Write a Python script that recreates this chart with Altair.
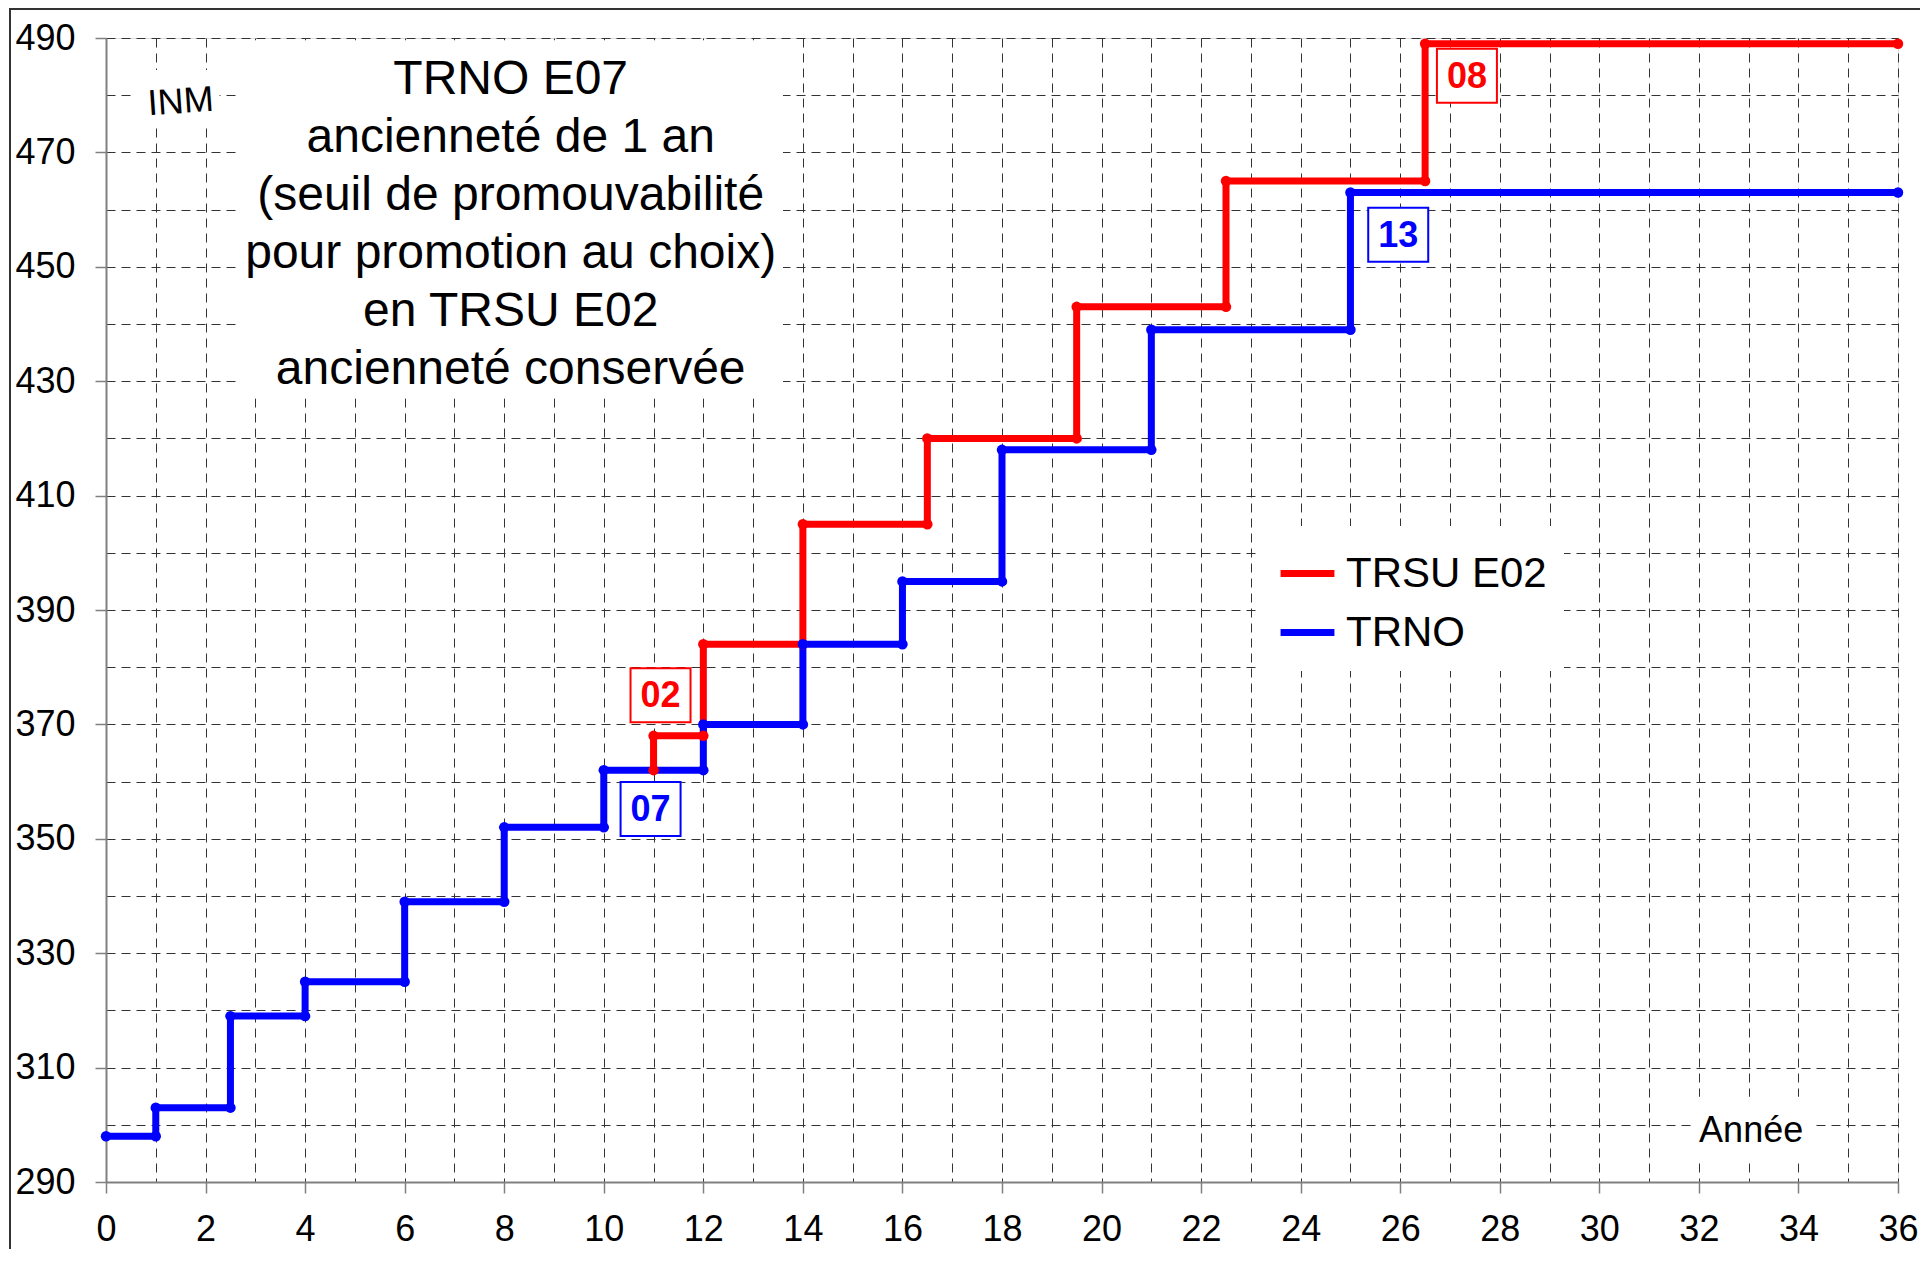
import altair as alt
import pandas as pd

FONT = "Liberation Sans"

# ---- series (step curves: year, INM) ----
series_names = ["TRSU E02", "TRNO"]
series_colors = ["#ff0000", "#0000ff"]

trsu_years = [11, 11, 12, 12, 14, 14, 16.5, 16.5, 19.5, 19.5, 22.5, 22.5, 26.5, 26.5, 36]
trsu_inm = [362, 368, 368, 384, 384, 405, 405, 420, 420, 443, 443, 465, 465, 489, 489]

trno_years = [0, 1, 1, 2.5, 2.5, 4, 4, 6, 6, 8, 8, 10, 10, 12, 12, 14, 14, 16, 16, 18, 18, 21, 21, 25, 25, 36]
trno_inm = [298, 298, 303, 303, 319, 319, 325, 325, 339, 339, 352, 352, 362, 362, 370, 370,
            384, 384, 395, 395, 418, 418, 439, 439, 463, 463]

# ---- axes ----
x_values = list(range(0, 37))
y_values = list(range(290, 491, 5))

# ---- step labels (boxed) ----
step_labels = ["02", "07", "13", "08"]
step_label_series = ["TRSU E02", "TRNO", "TRNO", "TRSU E02"]
step_label_years = [11.14, 10.94, 25.96, 27.34]
step_label_inm = [375.1, 355.2, 455.6, 483.4]

# ---- free texts ----
title_lines = ["TRNO E07", "ancienneté de 1 an", "(seuil de promouvabilité",
               "pour promotion au choix)", "en TRSU E02", "ancienneté conservée"]
title_year, title_inm = 8.13, 482.66
inm_label, inm_year, inm_inm = "INM", 1.5, 478.8
annee_label, annee_year, annee_inm = "Année", 33.05, 298.9

# white panels behind texts (year range, INM range)
panel_x1 = [2.68, 0.54, 31.9]
panel_x2 = [13.6, 2.28, 34.3]
panel_y1 = [427.0, 475.1, 293.4]
panel_y2 = [489.6, 484.4, 304.9]

# ---- tables ----
rows = []
i = 0
for name, xs, ys in [("TRSU E02", trsu_years, trsu_inm), ("TRNO", trno_years, trno_inm)]:
    for x, y in zip(xs, ys):
        rows.append({"series": name, "year": x, "inm": y, "idx": i})
        i += 1
series_df = pd.DataFrame(rows)

labels_df = pd.DataFrame({"series": step_label_series, "year": step_label_years,
                          "inm": step_label_inm, "label": step_labels})
panels_df = pd.DataFrame({"year": panel_x1, "year2": panel_x2, "inm": panel_y1, "inm2": panel_y2})

xscale = alt.Scale(domain=[0, 36], nice=False, zero=False)
yscale = alt.Scale(domain=[290, 490], nice=False, zero=False)
cscale = alt.Scale(domain=series_names, range=series_colors)

x_axis = alt.Axis(
    values=x_values, grid=True, gridDash=[9, 6], gridColor="#333333", gridWidth=1,
    labelExpr="datum.value % 2 === 0 ? datum.label : ''",
    labelFont=FONT, labelFontSize=36, labelColor="black", labelPadding=19,
    labelOverlap=False, labelFlush=False, labelBound=False,
    tickSize={"condition": {"test": "datum.value % 2 === 0", "value": 11}, "value": 0},
    tickColor="#808080", tickWidth=1.5, domainColor="#808080", domainWidth=2, title=None,
)
y_axis = alt.Axis(
    values=y_values, grid=True, gridDash=[9, 6], gridColor="#333333", gridWidth=1,
    labelExpr="(datum.value - 290) % 20 === 0 ? datum.label : ''",
    labelFont=FONT, labelFontSize=36, labelColor="black", labelPadding=20,
    labelOverlap=False, labelFlush=False, labelBound=False,
    tickSize={"condition": {"test": "(datum.value - 290) % 20 === 0", "value": 11}, "value": 0},
    tickColor="#808080", tickWidth=1.5, domainColor="#808080", domainWidth=2, title=None,
)

frame = alt.Chart(pd.DataFrame({"a": [0]})).mark_rect(
    fillOpacity=0, stroke="#333333", strokeWidth=2
).encode(x=alt.value(-96), x2=alt.value(2100), y=alt.value(-29), y2=alt.value(1500))

panels = alt.Chart(panels_df).mark_rect(fill="white", strokeWidth=0).encode(
    x=alt.X("year:Q", scale=xscale, title=None), x2="year2:Q",
    y=alt.Y("inm:Q", scale=yscale, title=None), y2="inm2:Q",
)

lines = alt.Chart(series_df).mark_line(
    strokeWidth=7, point=alt.OverlayMarkDef(filled=True, size=110, opacity=1)
).encode(
    x=alt.X("year:Q", scale=xscale, axis=x_axis, title=None),
    y=alt.Y("inm:Q", scale=yscale, axis=y_axis, title=None),
    color=alt.Color("series:N", scale=cscale, legend=alt.Legend(
        title=None, orient="none", legendX=1154, legendY=488,
        symbolType="stroke", symbolStrokeWidth=7, symbolSize=2900,
        labelFont=FONT, labelFontSize=42, labelColor="black", labelOffset=8, labelLimit=0,
        fillColor="white", padding=17, rowPadding=7,
    )),
    order=alt.Order("idx:Q"),
)

label_boxes = alt.Chart(labels_df).mark_point(
    shape="M-1,-0.9H1V0.9H-1Z", size=3600, filled=False, fill="white", fillOpacity=1,
    strokeWidth=2, opacity=1,
).encode(
    x=alt.X("year:Q", scale=xscale, title=None),
    y=alt.Y("inm:Q", scale=yscale, title=None),
    stroke=alt.Stroke("series:N", scale=alt.Scale(domain=series_names, range=series_colors), legend=None),
)

label_texts = alt.Chart(labels_df).mark_text(
    font=FONT, fontSize=36, fontWeight="bold", align="center", baseline="middle", dy=1,
).encode(
    x=alt.X("year:Q", scale=xscale, title=None),
    y=alt.Y("inm:Q", scale=yscale, title=None),
    text="label:N",
    fill=alt.Fill("series:N", scale=alt.Scale(domain=series_names, range=series_colors), legend=None),
)

title_text = alt.Chart(pd.DataFrame({"year": [title_year], "inm": [title_inm]})).mark_text(
    text=title_lines, font=FONT, fontSize=48, lineHeight=58, align="center", baseline="middle",
    color="black",
).encode(x=alt.X("year:Q", scale=xscale, title=None), y=alt.Y("inm:Q", scale=yscale, title=None))

inm_text = alt.Chart(pd.DataFrame({"year": [inm_year], "inm": [inm_inm], "t": [inm_label]})).mark_text(
    font=FONT, fontSize=36, align="center", baseline="middle", angle=356, color="black",
).encode(x=alt.X("year:Q", scale=xscale, title=None), y=alt.Y("inm:Q", scale=yscale, title=None), text="t:N")

annee_text = alt.Chart(pd.DataFrame({"year": [annee_year], "inm": [annee_inm], "t": [annee_label]})).mark_text(
    font=FONT, fontSize=36, align="center", baseline="middle", color="black",
).encode(x=alt.X("year:Q", scale=xscale, title=None), y=alt.Y("inm:Q", scale=yscale, title=None), text="t:N")

chart = alt.layer(
    frame, panels, lines, label_boxes, label_texts, title_text, inm_text, annee_text
).properties(
    width=1792, height=1144, autosize="none",
    padding={"left": 98, "top": 30, "right": 22, "bottom": 67},
    background="white",
).configure_view(stroke=None).configure(font=FONT)

chart.save("out.html", embed_options={"renderer": "svg", "actions": False})
